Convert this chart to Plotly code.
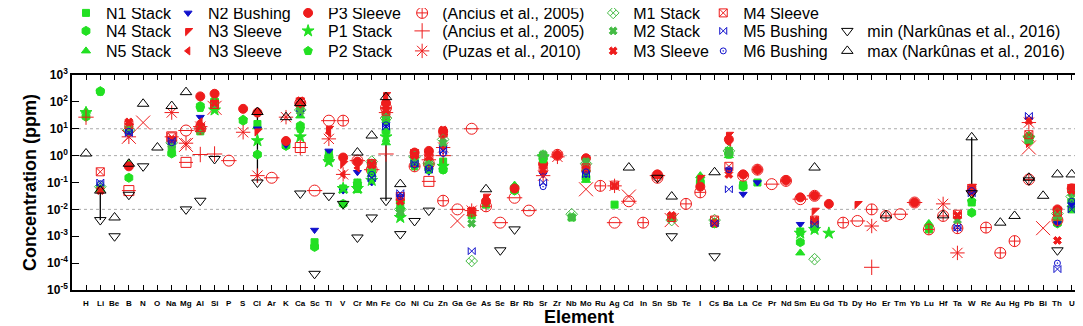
import plotly.graph_objects as go

ELEMENTS = ["H","Li","Be","B","N","O","Na","Mg","Al","Si","P","S","Cl","Ar","K","Ca","Sc","Ti","V","Cr",
            "Mn","Fe","Co","Ni","Cu","Zn","Ga","Ge","As","Se","Br","Rb","Sr","Zr","Nb","Mo","Ru","Ag","Cd",
            "In","Sn","Sb","Te","I","Cs","Ba","La","Ce","Pr","Nd","Sm","Eu","Gd","Tb","Dy","Ho","Er","Tm",
            "Yb","Lu","Hf","Ta","W","Re","Au","Hg","Pb","Bi","Th","U","--"]

N1_stack = {"Li":0.06,"B":9,"Na":2,"Al":8,"Si":70,"Cl":15,"K":2.5,"Ca":60,"Sc":0.0006,"Ti":1.2,"V":0.06,"Cr":0.1,
            "Mn":0.3,"Fe":30,"Co":0.015,"Ni":0.5,"Cu":0.4,"Zn":0.6,"Ge":0.006,"As":0.015,"Br":0.06,"Sr":1,"Nb":0.005,
            "Mo":0.3,"Ag":0.015,"Sb":0.005,"I":0.12,"Cs":0.003,"Ba":1.5,"La":0.08,"Ce":0.1,"Sm":0.0015,"Eu":0.003,
            "Lu":0.0018,"W":0.018,"Pb":4,"Th":0.004,"U":0.01}
N2_bushing = {"B":6,"Al":27,"Cl":10,"K":2.5,"Ca":40,"Sc":0.0017,"Ti":1.5,"V":0.05,"Cr":0.24,"Mn":0.1,"Fe":15,
              "Co":0.03,"Ni":0.8,"Cu":0.25,"Zn":2,"Sr":0.2,"Mo":0.2,"Ba":0.3,"La":0.037,"Ce":0.1,"Sm":0.0028,
              "Eu":0.004,"W":0.06,"Th":0.003,"U":0.015}
P3_sleeve = {"B":0.4,"Al":160,"Si":200,"S":55,"Cl":40,"K":3.5,"Ca":80,"V":0.85,"Cr":0.6,"Mn":0.5,"Fe":90,
             "Ni":1.3,"Cu":1.5,"Zn":8,"As":0.02,"Br":0.06,"Sr":0.5,"Zr":1.05,"Mo":0.8,"Sn":0.2,"I":0.07,"Ba":4,
             "La":0.2,"Ce":0.3,"Nd":0.12,"Sm":0.028,"Eu":0.032,"Gd":0.016,"Yb":0.018,"W":0.05,"Pb":5,"Th":0.01,"U":0.06}
N4_stack = {"H":28,"Li":250,"B":0.15,"Na":1.2,"Al":70,"Si":110,"S":20,"Cl":1.1,"K":2.3,"Ca":13,"Sc":0.0004,
            "Ti":0.9,"V":0.016,"Cr":0.07,"Mn":0.25,"Fe":8,"Co":0.02,"Ni":0.6,"Cu":0.35,"Zn":0.3,"Br":0.05,"Sr":0.8,
            "Mo":0.15,"I":0.1,"Cs":0.003,"Ba":1.2,"La":0.07,"Sm":0.0006,"Eu":0.002,"W":0.0075,"Pb":3.5,"Th":0.003,"U":0.02}
N3_sleeve_a = {"B":12,"Na":3,"Al":12,"Cl":8,"Ti":10,"V":0.5,"Fe":180,"Zn":5,"As":0.03,"Ba":6,"Dy":0.016,
               "Eu":0.009,"Sr":0.4,"U":0.07,"Th":0.009,"W":0.07,"I":0.15,"Pb":3}
P1_stack = {"H":40,"Si":50,"Cl":3.6,"Ca":5,"Ti":0.6,"V":0.06,"Fe":5,"Co":0.005,"Zn":0.4,"Sm":0.0013,"Gd":0.0013,
            "Eu":0.0018,"Pb":4.5,"Mn":0.12,"Cr":0.06,"Sr":0.9}
N5_stack = {"H":45,"Li":0.055,"B":0.5,"Si":60,"Cl":12,"Ca":30,"Ti":0.7,"V":0.05,"Cr":0.05,"Mn":0.2,"Fe":3,
            "Co":0.007,"Zn":0.5,"Br":0.08,"I":0.18,"Lu":0.003,"Sm":0.00024,"Ba":1,"Cs":0.0035,"Mo":0.12,"U":0.015,"Th":0.005}
N3_sleeve_b = {"Al":18,"Ti":7,"Fe":120,"Zn":3,"Sr":0.6,"Ba":3,"Mo":0.4,"Na":2.8,"W":0.04,"Cr":0.35,"V":0.2}
P2_stack = {"Li":240,"Al":60,"Si":90,"S":22,"Ca":10,"Ti":0.8,"Cr":0.09,"Fe":20,"Ni":0.4,"Cu":0.3,"Zn":0.3,
            "Sr":0.7,"Ba":1.1,"W":0.02,"Pb":4,"Mo":0.25,"Co":0.01}
ancius_circle = {"Al":10,"Ca":90,"V":20,"Fe":60,"Zn":0.021,"As":0.013,"Zr":1.07,"Ru":0.075,"In":0.0032,"Te":0.016,
                 "I":0.043,"Ce":0.3,"Nd":0.115,"Tb":0.0032,"Ho":0.01,"Er":0.0057,"Lu":0.0018,"Re":0.0021,
                 "Au":0.00024,"Hg":0.00066,"Ta":0.002,"Cu":0.5,"Ni":0.4,"Th":0.004,"La":0.18,"Pb":0.13,"Sn":0.15,"Hf":0.0057}
ancius_plus = {"H":27,"Al":1.1,"Si":1.15,"Fe":1.15,"Ca":2,"Zn":1,"Ho":0.00007}
puzas = {"Na":40,"Mg":2.9,"Al":12,"S":7.4,"Cl":0.18,"K":27,"Ti":4.2,"V":0.2,"Fe":40,"Zn":2,"Sr":0.18,"Zr":0.9,
         "Ag":0.075,"Ho":0.0024,"Hf":0.016,"Ta":0.00024,"Pb":17,"Ge":0.009,"Cu":0.7,"B":5}
M1_stack = {"Li":0.07,"B":9,"Na":3,"Ca":50,"Mn":0.6,"Fe":25,"Co":0.01,"Ni":0.9,"Cu":0.5,"Zn":4,"Ge":0.00012,
            "Sr":1,"Nb":0.0066,"Mo":0.5,"Ba":1.5,"Eu":0.00014,"Sb":0.004,"Cs":0.004,"Pb":5,"Th":0.007,"U":0.03}
M2_stack = {"Li":0.06,"B":10,"Na":2.5,"Al":9,"Si":80,"Ca":45,"Mn":0.4,"Fe":35,"Co":0.008,"Ni":0.7,"Cu":0.6,
            "Zn":3,"Ge":0.003,"Sr":1.1,"Nb":0.005,"Mo":0.6,"Sb":0.005,"Cs":0.003,"Ba":1.3,"Eu":0.003,"Ta":0.004,
            "Pb":4,"Th":0.006,"U":0.04}
M3_sleeve = {"Li":0.05,"B":18,"Na":4,"Al":12,"Si":90,"Ca":110,"Mn":0.45,"Fe":50,"Co":0.02,"Ni":1,"Cu":0.9,
             "Zn":9,"Ge":0.009,"Sr":0.3,"Mo":0.3,"Ag":0.075,"Sn":0.2,"Sb":0.006,"Cs":0.003,"Ba":0.2,"Eu":0.004,
             "Ta":0.006,"W":0.05,"Pb":20,"Th":0.0007,"U":0.05}
M4_sleeve = {"Li":0.25,"B":14,"Na":5,"Al":11,"Si":80,"Ca":100,"Mn":0.5,"Fe":45,"Co":0.03,"Ni":1.2,"Cu":1,
             "Zn":7,"Ge":0.008,"Sr":0.35,"Mo":0.35,"Ag":0.08,"Sb":0.005,"Cs":0.004,"Ba":0.4,"Eu":0.004,
             "Ta":0.0066,"W":0.06,"Pb":6,"Th":0.008,"U":0.06}
M5_bushing = {"Li":0.1,"B":7,"Na":3.5,"Mn":0.15,"Fe":12,"Co":0.04,"Ni":0.5,"Cu":0.3,"Zn":1.5,"Ge":0.00028,
              "Sr":0.1,"Mo":0.2,"Ba":0.056,"Eu":0.0028,"Ta":0.0021,"W":0.04,"Pb":30,"Th":0.00006,"U":0.01,"Cs":0.003}
M6_bushing = {"Li":0.09,"B":8,"Na":3,"Mn":0.2,"Fe":14,"Co":0.03,"Ni":0.45,"Cu":0.35,"Zn":1.2,"Sr":0.07,
              "Mo":0.25,"Ba":0.3,"Ta":0.002,"W":0.05,"Th":0.0001,"U":0.02}
nark_min = {"Li":0.004,"Be":0.001,"B":0.035,"N":0.4,"Mg":0.01,"Al":0.021,"Si":0.75,"Cl":0.1,"Ca":0.039,
            "Sc":0.00004,"Ti":0.032,"V":0.016,"Cr":0.0009,"Mn":0.005,"Fe":0.021,"Co":0.0012,"Ni":0.0037,
            "Cu":0.009,"Se":0.0003,"Br":0.0018,"Sn":0.15,"Sb":0.001,"Cs":0.00018,"Pb":0.12,"Th":0.0003,"W":0.04}
nark_max = {"H":1.2,"Li":0.05,"Be":0.005,"B":0.5,"N":85,"O":2,"Na":70,"Mg":230,"K":27,"Ca":90,"Cl":42,
            "Cr":1.3,"Mn":5.6,"Fe":150,"Co":0.087,"As":0.056,"Cd":0.36,"Sb":0.03,"Cs":0.24,"Eu":0.36,
            "Er":0.006,"Hf":0.006,"W":4.8,"Au":0.0032,"Hg":0.0057,"Pb":0.15,"Bi":0.032,"Th":0.2,"U":0.2}
range_elements = ["Li", "Cl", "Fe", "W"]
other_x = {"N":17,"B":5,"Si":60,"Ga":0.0037,"Mo":0.056,"Cd":0.03,"Pb":2,"Bi":0.002,"Sb":0.004,"Mg":2.5}
other_circle = {"Mg":8.6,"Ar":0.15,"Sc":0.05,"Ti":20,"Cr":0.65,"Ga":0.01,"Ge":10,"Se":0.0032,"Br":0.027,
                "Rb":0.009,"Ag":0.0032,"Cd":0.02,"Pr":0.087,"Sm":0.024,"Eu":0.032,"Dy":0.0037,"Tm":0.0066,
                "Yb":0.018,"Mn":0.3,"Sn":0.18,"P":0.65}
other_square = {"B":0.05,"Na":5,"Mg":0.56,"Ca":2,"Cu":0.11}

GREEN = "#22e022"
GREEN2 = "#44bb44"
RED = "#ee1c1c"
BLUE = "#1010cc"
FONT = "Liberation Sans, Arial, sans-serif"

idx = {e: i for i, e in enumerate(ELEMENTS)}
fig = go.Figure()

def add(data, name, symbol, color, size, legend=None, lw=1.0):
    fig.add_trace(go.Scatter(
        x=[idx[k] for k in data], y=list(data.values()), mode="markers", name=name,
        showlegend=legend is not None, legend=legend if legend else "legend",
        marker=dict(symbol=symbol, color=color, size=size, line=dict(color=color, width=lw)),
    ))

# unlabelled series (behind)
add(other_circle, "", "circle-open", RED, 11)
add(other_circle, "", "line-ew-open", RED, 11)
add(other_square, "", "square-open", RED, 10)
add(other_square, "", "line-ew-open", RED, 10)
add(other_x, "", "x-thin-open", RED, 14)

rx, ry = [], []
for e in range_elements:
    rx += [idx[e], idx[e], None]
    ry += [nark_max[e], nark_min[e], None]
fig.add_trace(go.Scatter(x=rx, y=ry, mode="lines", line=dict(color="black", width=1.3), showlegend=False))

# legend columns (text start x in px) and rows (legend top y in px)
COLS = [101, 203, 323, 437, 628, 738, 862]
ROW_TOPS = [-12, 6, 26]
series = [
    (N1_stack, "N1 Stack", "square", GREEN, 7, 0, 0),
    (N4_stack, "N4 Stack", "hexagon", GREEN, 9, 0, 1),
    (N5_stack, "N5 Stack", "triangle-up", GREEN, 8, 0, 2),
    (N2_bushing, "N2 Bushing", "triangle-down", BLUE, 7, 1, 0),
    (N3_sleeve_a, "N3 Sleeve", "triangle-nw", RED, 8, 1, 1),
    (N3_sleeve_b, "N3 Sleeve", "triangle-left", RED, 7, 1, 2),
    (P3_sleeve, "P3 Sleeve", "circle", RED, 9, 2, 0),
    (P1_stack, "P1 Stack", "star", GREEN, 9, 2, 1),
    (P2_stack, "P2 Stack", "pentagon", GREEN, 9, 2, 2),
    (ancius_circle, "(Ancius et al., 2005)", "circle-cross-open", RED, 11, 3, 0),
    (ancius_plus, "(Ancius et al., 2005)", "cross-thin-open", RED, 11, 3, 1),
    (puzas, "(Puzas et al., 2010)", "asterisk-open", RED, 12, 3, 2),
    (M1_stack, "M1 Stack", "diamond-x-open", GREEN2, 9, 4, 0),
    (M2_stack, "M2 Stack", "x", GREEN2, 7, 4, 1),
    (M3_sleeve, "M3 Sleeve", "x", RED, 7, 4, 2),
    (M4_sleeve, "M4 Sleeve", "square-x-open", RED, 8, 5, 0),
    (M5_bushing, "M5 Bushing", "bowtie-open", BLUE, 7, 5, 1),
    (M6_bushing, "M6 Bushing", "circle-open-dot", BLUE, 6, 5, 2),
    (nark_min, "min (Narkûnas et al., 2016)", "triangle-down-open", "black", 10, 6, 1),
    (nark_max, "max (Narkûnas et al., 2016)", "triangle-up-open", "black", 10, 6, 2),
]

PLOT_L, PLOT_R, PLOT_T, PLOT_B = 64, 1077.6, 67, 282
def paper_x(px):
    return (px - PLOT_L) / (PLOT_R - PLOT_L)
def paper_y(pyx):
    return (PLOT_B - pyx) / (PLOT_B - PLOT_T)

legends = {}
for n, (data, name, sym, col, size, c, r) in enumerate(series):
    key = "legend" if n == 0 else f"legend{n+1}"
    add(data, name, sym, col, size, key)
    legends[key] = dict(font=dict(family=FONT, size=16, color="black"), bgcolor="rgba(0,0,0,0)",
                        xanchor="left", yanchor="top", itemsizing="trace",
                        x=paper_x(COLS[c] - 43), y=paper_y(ROW_TOPS[r]))

for v in [10, 1, 0.01]:
    fig.add_shape(type="line", xref="paper", yref="y", x0=0, x1=1, y0=v, y1=v,
                  line=dict(color="#aaaaaa", width=1, dash="dot"), layer="below")

# element labels under the axis
annotations = [dict(x=i, xref="x", y=0, yref="paper", yshift=-7, yanchor="top", showarrow=False,
                    text=f"<b>{e}</b>", font=dict(size=8, family=FONT, color="black"))
               for i, e in enumerate(ELEMENTS)]

fig.update_layout(
    width=1083, height=326,
    margin=dict(l=PLOT_L, r=1083 - PLOT_R, t=PLOT_T, b=326 - PLOT_B, autoexpand=False),
    plot_bgcolor="white", paper_bgcolor="white",
    font=dict(family=FONT, color="black"),
    annotations=annotations,
    xaxis=dict(range=[-0.98, 70], tickmode="array", tickvals=list(range(len(ELEMENTS))),
               showticklabels=False, ticks="inside", ticklen=5, tickcolor="black",
               showline=True, linecolor="black", linewidth=1.5, mirror="allticks", showgrid=False, zeroline=False,
               title=dict(text="<b>Element</b>", font=dict(size=18, family=FONT), standoff=20)),
    yaxis=dict(type="log", range=[-5, 3], tickmode="array",
               tickvals=[10.0**k for k in range(-5, 4)],
               ticktext=[f"<b>10<sup>{k}</sup></b>" for k in range(-5, 4)],
               tickfont=dict(size=12, family=FONT), ticks="inside", ticklen=7, tickcolor="black",
               showline=True, linecolor="black", linewidth=1.5, mirror="allticks", showgrid=False, zeroline=False,
               title=dict(text="<b>Concentration (ppm)</b>", font=dict(size=18, family=FONT), standoff=6)),
    **legends,
)

fig.write_html("out.html")
